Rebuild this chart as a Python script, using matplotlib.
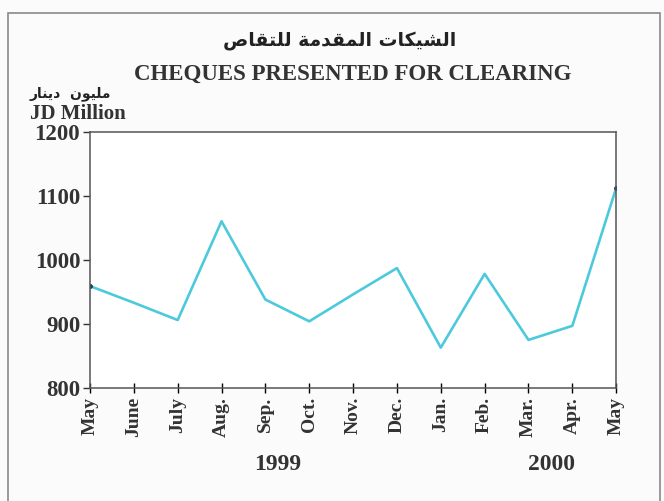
import matplotlib.pyplot as plt
from matplotlib.patches import Rectangle

months = ["May", "June", "July", "Aug.", "Sep.", "Oct.", "Nov.",
          "Dec.", "Jan.", "Feb.", "Mar.", "Apr.", "May"]
cheques = [959, 933, 906, 1060, 938, 904, 946, 987, 863, 978, 875, 897, 1112]
years = ["1999", "2000"]
title_ar = "الشيكات المقدمة للتقاص"
title_en = "CHEQUES PRESENTED FOR CLEARING"
unit_ar = "مليون  دينار"
unit_en = "JD Million"

# simple arabic shaping -> presentation forms (iso, fin, ini, med)
FORMS = {
    "ا": ("\uFE8D", "\uFE8E", None, None),
    "د": ("\uFEA9", "\uFEAA", None, None),
    "ر": ("\uFEAD", "\uFEAE", None, None),
    "و": ("\uFEED", "\uFEEE", None, None),
    "ة": ("\uFE93", "\uFE94", None, None),
    "ل": ("\uFEDD", "\uFEDE", "\uFEDF", "\uFEE0"),
    "ش": ("\uFEB5", "\uFEB6", "\uFEB7", "\uFEB8"),
    "ي": ("\uFEF1", "\uFEF2", "\uFEF3", "\uFEF4"),
    "ك": ("\uFED9", "\uFEDA", "\uFEDB", "\uFEDC"),
    "ت": ("\uFE95", "\uFE96", "\uFE97", "\uFE98"),
    "م": ("\uFEE1", "\uFEE2", "\uFEE3", "\uFEE4"),
    "ق": ("\uFED5", "\uFED6", "\uFED7", "\uFED8"),
    "ص": ("\uFEB9", "\uFEBA", "\uFEBB", "\uFEBC"),
    "ن": ("\uFEE5", "\uFEE6", "\uFEE7", "\uFEE8"),
}


def shape(s):
    out = []
    for i, c in enumerate(s):
        if c not in FORMS:
            out.append(c)
            continue
        prev = s[i - 1] if i > 0 else " "
        nxt = s[i + 1] if i < len(s) - 1 else " "
        joins_prev = prev in FORMS and FORMS[prev][2] is not None
        joins_next = nxt in FORMS and FORMS[c][2] is not None
        iso, fin, ini, med = FORMS[c]
        if joins_prev and joins_next:
            out.append(med)
        elif joins_prev:
            out.append(fin)
        elif joins_next:
            out.append(ini)
        else:
            out.append(iso)
    return "".join(out)[::-1]


plt.rcParams["font.family"] = ["Liberation Serif", "DejaVu Sans"]
plt.rcParams["font.weight"] = "bold"

fig = plt.figure(figsize=(6.64, 5.01), dpi=100)
fig.patch.set_facecolor("#fbfbfb")
fig.add_artist(Rectangle((0.012, -0.01), 0.982, 0.985, transform=fig.transFigure,
                         fill=False, edgecolor="#8a8a8a", lw=1.2))

ax = fig.add_axes([0.1355, 0.2255, 0.7925, 0.512])
ax.set_facecolor("white")
x = list(range(len(months)))
ax.plot(x, cheques, color="#4ccadc", lw=1.9)
ax.plot([x[0], x[-1]], [cheques[0], cheques[-1]], "o", color="#2a3a4a", ms=2.5)

ax.set_xlim(0, len(months) - 1)
ax.set_ylim(800, 1200)
ax.set_yticks([800, 900, 1000, 1100, 1200])
ax.set_xticks(x)
ax.set_xticklabels(months, rotation=90, fontsize=14, color="#333333")
ax.tick_params(axis="y", labelsize=16.5, colors="#333333", length=5, width=1, pad=2)
ax.tick_params(axis="x", direction="inout", length=7, width=1, pad=3)
for sp in ax.spines.values():
    sp.set_color("#555555")
    sp.set_linewidth(1.1)

fig.text(0.512, 0.92, shape(title_ar), family="DejaVu Sans", fontsize=13.5,
         ha="center", va="center", color="#222222", weight="bold")
fig.text(0.531, 0.852, title_en, fontsize=16.5, ha="center", va="center", color="#333333")
fig.text(0.045, 0.813, shape(unit_ar), family="DejaVu Sans", fontsize=10,
         ha="left", va="center", color="#222222")
fig.text(0.045, 0.773, unit_en, fontsize=15, ha="left", va="center", color="#333333")
fig.text(0.418, 0.072, years[0], fontsize=17, ha="center", va="center", color="#333333")
fig.text(0.83, 0.072, years[1], fontsize=17, ha="center", va="center", color="#333333")

fig.savefig("out.png", dpi=100, facecolor=fig.get_facecolor())
